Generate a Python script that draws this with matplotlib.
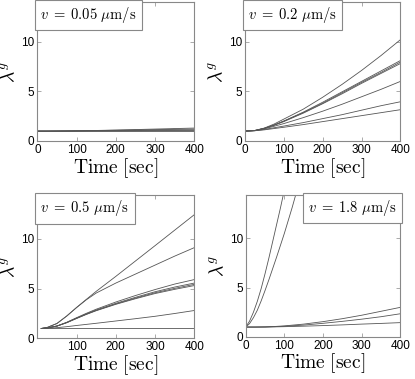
import matplotlib
matplotlib.use('Agg')
import matplotlib.pyplot as plt
from matplotlib import rcParams

rcParams['mathtext.fontset'] = 'cm'
rcParams['font.family'] = 'Liberation Sans'

# time grids (sec)
t_a = [0, 25, 50, 75, 100, 150, 200, 250, 300, 350, 400]
t_b = [10, 25, 50, 75, 100, 125, 150, 200, 250, 300, 350, 400]
t_fast = [0, 10, 20, 30, 40, 50, 60, 70, 80, 90, 100, 110, 120, 130]

speeds = ['0.05', '0.2', '0.5', '1.8']

# v = 0.05 um/s
lam_005 = [
    [1, 1.0, 1.01, 1.02, 1.03, 1.06, 1.10, 1.15, 1.20, 1.25, 1.30],
    [1, 1.0, 1.01, 1.02, 1.03, 1.05, 1.08, 1.11, 1.14, 1.17, 1.20],
    [1, 1.0, 1.0, 1.01, 1.02, 1.03, 1.05, 1.06, 1.08, 1.10, 1.12],
    [1, 1.0, 1.0, 1.0, 1.01, 1.02, 1.02, 1.03, 1.04, 1.05, 1.06],
    [1, 1.0, 1.0, 1.0, 1.0, 1.0, 1.0, 1.0, 1.0, 1.0, 1.0],
]

# v = 0.2 um/s
lam_02 = [
    [1, 1.05, 1.30, 1.70, 2.20, 3.20, 4.40, 5.70, 7.10, 8.60, 10.2],
    [1, 1.05, 1.28, 1.60, 2.00, 2.90, 3.90, 4.95, 6.00, 7.05, 8.10],
    [1, 1.05, 1.27, 1.60, 2.00, 2.85, 3.80, 4.85, 5.90, 6.90, 7.95],
    [1, 1.05, 1.26, 1.58, 1.95, 2.80, 3.75, 4.75, 5.80, 6.80, 7.80],
    [1, 1.04, 1.22, 1.48, 1.75, 2.35, 3.00, 3.70, 4.45, 5.20, 6.00],
    [1, 1.03, 1.16, 1.33, 1.50, 1.85, 2.25, 2.65, 3.10, 3.55, 3.95],
    [1, 1.03, 1.12, 1.25, 1.38, 1.65, 1.95, 2.25, 2.55, 2.85, 3.15],
]

# v = 0.5 um/s
lam_05 = [
    [1, 1.10, 1.50, 2.25, 3.10, 3.92, 4.72, 6.22, 7.76, 9.30, 10.85, 12.4],
    [1, 1.10, 1.50, 2.25, 3.10, 3.88, 4.55, 5.55, 6.45, 7.35, 8.25, 9.10],
    [1, 1.05, 1.25, 1.62, 2.08, 2.52, 2.93, 3.65, 4.30, 4.90, 5.45, 5.90],
    [1, 1.05, 1.24, 1.60, 2.04, 2.46, 2.85, 3.52, 4.12, 4.68, 5.15, 5.55],
    [1, 1.05, 1.24, 1.59, 2.02, 2.43, 2.81, 3.46, 4.04, 4.58, 5.02, 5.42],
    [1, 1.05, 1.24, 1.58, 2.00, 2.41, 2.78, 3.42, 3.98, 4.50, 4.92, 5.30],
    [1, 1.02, 1.08, 1.18, 1.30, 1.41, 1.52, 1.75, 1.98, 2.22, 2.50, 2.80],
    [1, 1.0, 1.0, 1.0, 1.0, 1.0, 1.0, 1.0, 1.0, 1.0, 1.0, 1.0],
]

# v = 1.8 um/s
lam_18_fast = [
    [1, 1.6, 2.5, 3.6, 4.9, 6.4, 8.0, 9.7, 11.4, 13.1, 14.9, 16.7, 18.5, 20.5],
    [1, 1.35, 1.95, 2.7, 3.65, 4.7, 5.8, 6.95, 8.1, 9.3, 10.5, 11.8, 13.1, 14.5],
]
lam_18_slow = [
    [1, 1.0, 1.02, 1.06, 1.12, 1.30, 1.55, 1.85, 2.20, 2.60, 3.00],
    [1, 1.0, 1.01, 1.04, 1.08, 1.20, 1.38, 1.58, 1.80, 2.05, 2.35],
    [1, 1.0, 1.0, 1.02, 1.04, 1.09, 1.15, 1.22, 1.30, 1.37, 1.45],
]

lcolor = '#555555'
lw = 0.6
tickFont = 8.5
labelFont = 14


def style_axes(ax, xlim, ylim):
    ax.set_xlim(xlim)
    ax.set_ylim(ylim)
    ax.set_xticks([0, 100, 200, 300, 400])
    ax.set_yticks([0, 5, 10])
    ax.tick_params(direction='in', top=True, right=True, length=3,
                   width=0.5, color='#888888', labelsize=tickFont, pad=2)
    for s in ax.spines.values():
        s.set_color('#888888')
        s.set_linewidth(0.8)
    ax.set_xlabel(r'$\mathrm{Time\ [sec]}$', fontsize=labelFont, labelpad=0)
    ax.set_ylabel(r'$\lambda^g$', fontsize=labelFont, labelpad=2)


def add_box(ax, v, x=0.02, ha='left'):
    ax.text(x, 0.975, r'$v\;=\;%s\ \mu\mathrm{m/s}$' % v, transform=ax.transAxes,
            ha=ha, va='top', fontsize=10.5,
            bbox=dict(boxstyle='square,pad=0.35', fc='white', ec='#888888', lw=0.8))


fig = plt.figure(figsize=(4.15, 3.79), dpi=100)
ax1 = fig.add_axes([0.090, 0.628, 0.378, 0.367])
ax2 = fig.add_axes([0.590, 0.628, 0.375, 0.367])
ax3 = fig.add_axes([0.090, 0.107, 0.378, 0.379])
ax4 = fig.add_axes([0.592, 0.111, 0.373, 0.375])

for y in lam_005:
    ax1.plot(t_a, y, color=lcolor, lw=lw)
style_axes(ax1, (0, 400), (0, 14))
add_box(ax1, speeds[0])

for y in lam_02:
    ax2.plot(t_a, y, color=lcolor, lw=lw)
style_axes(ax2, (0, 400), (0, 14))
add_box(ax2, speeds[1])

for y in lam_05:
    ax3.plot(t_b, y, color=lcolor, lw=lw)
style_axes(ax3, (10, 400), (0, 14.4))
ax3.set_xticks([100, 200, 300, 400])
add_box(ax3, speeds[2])

for y in lam_18_fast:
    ax4.plot(t_fast, y, color=lcolor, lw=lw)
for y in lam_18_slow:
    ax4.plot(t_a, y, color=lcolor, lw=lw)
style_axes(ax4, (0, 400), (0, 14.4))
add_box(ax4, speeds[3], x=0.98, ha='right')

fig.savefig('out.png', dpi=100)
